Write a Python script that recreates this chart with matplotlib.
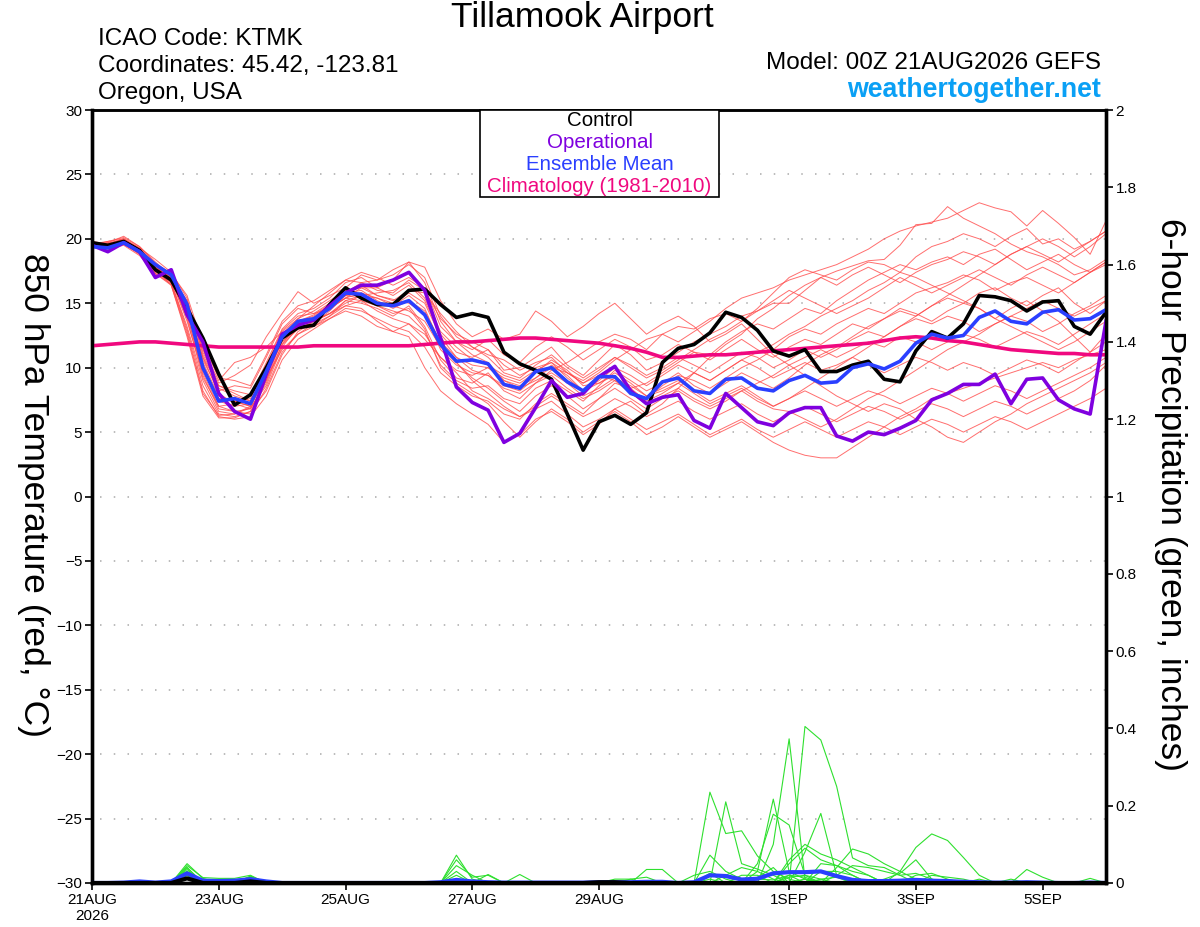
import numpy as np
import matplotlib
matplotlib.use('Agg')
import matplotlib.pyplot as plt

plt.rcParams['font.family'] = ['Liberation Sans', 'DejaVu Sans']

# 6-hourly steps from 00Z 21AUG2026 (65 times, 16 days)
n_steps = 65
tick_steps = [0, 8, 16, 24, 32, 44, 52, 60]
tick_labels = ['21AUG\n2026', '23AUG', '25AUG', '27AUG', '29AUG', '1SEP', '3SEP', '5SEP']

# 850 hPa temperature (C)
control_t = [19.7, 19.5, 19.8, 19.1, 17.6, 16.8,
             14.6, 12.3, 9.5, 7.1, 7.9, 10.0,
             12.3, 13.1, 13.3, 14.9, 16.2, 15.4, 14.9, 14.9, 16.0, 16.1,
             14.9, 13.9, 14.2, 13.9, 11.2, 10.3, 9.8, 9.1, 6.4, 3.6, 5.8, 6.3,
             5.6, 6.5, 10.4, 11.5, 11.8, 12.7, 14.3, 13.9, 12.9, 11.3,
             10.9, 11.4, 9.7, 9.7, 10.2, 10.5, 9.1, 8.9, 11.3, 12.8,
             12.3, 13.4, 15.6, 15.5, 15.2, 14.4, 15.1, 15.2, 13.2, 12.6, 14.3]
oper_t = [19.5, 19.0, 19.7, 19.0, 17.0, 17.6,
          14.1, 12.0, 8.0, 6.6, 6.0, 9.5,
          12.6, 13.3, 13.7, 14.8, 15.8, 16.4, 16.4, 16.8, 17.4, 16.0,
          12.3, 8.5, 7.3, 6.7, 4.2, 4.9, 6.9, 9.0, 7.7, 8.0, 9.3, 10.1,
          8.2, 7.2, 7.7, 7.9, 5.9, 5.3, 8.0, 6.9, 5.8, 5.5,
          6.5, 6.9, 6.9, 4.7, 4.3, 5.0, 4.8, 5.3, 5.9, 7.5,
          8.0, 8.7, 8.7, 9.5, 7.2, 9.1, 9.2, 7.5, 6.8, 6.4, 13.6]
mean_t = [19.4, 19.3, 19.7, 19.0, 18.0, 17.2,
          14.9, 10.0, 7.4, 7.6, 7.2, 9.7,
          12.4, 13.6, 13.8, 14.6, 15.8, 15.7, 15.0, 14.8, 15.2, 14.1,
          11.8, 10.5, 10.6, 10.3, 8.7, 8.4, 9.7, 10.0, 8.9, 8.2, 9.3, 9.3,
          8.0, 7.6, 8.9, 9.2, 8.2, 8.0, 9.1, 9.2, 8.4, 8.2,
          9.0, 9.4, 8.8, 8.9, 10.0, 10.3, 9.9, 10.5, 11.9, 12.6,
          12.3, 12.5, 13.9, 14.4, 13.6, 13.4, 14.3, 14.5, 13.7, 13.8, 14.5]
clim_t = [11.7, 11.8, 11.9, 12.0, 12.0, 11.9,
          11.8, 11.7, 11.6, 11.6, 11.6, 11.6,
          11.6, 11.6, 11.7, 11.7, 11.7, 11.7, 11.7, 11.7, 11.7, 11.8,
          11.9, 12.0, 12.0, 12.1, 12.2, 12.3, 12.3, 12.2, 12.1, 12.0, 11.9, 11.7,
          11.5, 11.2, 10.8, 10.8, 10.9, 11.0, 11.0, 11.1, 11.2, 11.3,
          11.4, 11.5, 11.6, 11.7, 11.8, 11.9, 12.1, 12.3, 12.4, 12.3,
          12.1, 12.0, 11.8, 11.6, 11.4, 11.3, 11.2, 11.1, 11.1, 11.0, 11.0]

ens_t = [
    [19.6, 19.8, 20.1, 19.4, 18.2, 17.1, 14.2, 10.8, 8.0, 7.2, 7.8, 10.4,
     13.0, 14.2, 14.6, 15.4, 16.6, 17.0, 16.2, 15.6, 16.4, 15.2,
     12.6, 11.2, 10.8, 11.4, 9.8, 10.0, 10.8, 11.6, 10.2, 9.4, 10.6, 11.8,
     11.0, 9.8, 10.4, 11.2, 12.0, 12.6, 13.2, 14.0, 14.4, 15.0,
     15.0, 16.0, 17.0, 17.5, 17.9, 18.3, 18.4, 19.5, 21.1, 21.2,
     22.5, 21.6, 21.0, 20.4, 19.6, 19.0, 18.6, 18.0, 17.2, 17.6, 18.4],
    [19.3, 19.6, 19.9, 19.2, 17.9, 16.8, 13.6, 9.6, 7.0, 6.6, 6.8, 9.0,
     12.2, 13.6, 14.1, 14.9, 15.6, 16.4, 15.6, 15.3, 15.0, 14.2,
     11.4, 10.2, 9.6, 9.4, 8.6, 8.2, 9.2, 10.0, 9.6, 8.8, 9.6, 10.6,
     11.4, 12.2, 12.6, 12.0, 12.8, 13.6, 14.6, 15.4, 15.8, 16.2,
     16.8, 17.2, 17.6, 18.0, 18.6, 19.2, 20.0, 20.6, 21.0, 21.3,
     21.6, 22.2, 22.8, 22.4, 22.1, 21.0, 22.2, 21.2, 20.1, 18.8, 21.4],
    [19.5, 19.4, 19.7, 19.0, 17.6, 16.9, 15.0, 11.5, 8.4, 7.8, 7.4, 9.8,
     12.5, 13.5, 13.6, 14.2, 15.2, 15.0, 14.6, 14.0, 14.8, 13.2,
     10.6, 9.2, 8.8, 9.6, 8.2, 7.6, 8.8, 9.8, 10.4, 11.2, 12.0, 12.6,
     12.2, 11.4, 12.6, 13.2, 13.0, 13.8, 14.2, 13.6, 14.6, 15.8,
     17.0, 17.6, 17.2, 16.8, 17.6, 18.2, 18.0, 17.4, 18.6, 19.4,
     19.8, 20.4, 20.0, 19.4, 20.2, 20.8, 19.6, 20.0, 19.2, 19.8, 20.6],
    [19.7, 19.5, 19.8, 18.9, 17.5, 16.6, 13.2, 9.0, 6.6, 6.4, 6.9, 8.6,
     11.6, 13.2, 13.8, 14.5, 15.8, 16.6, 16.8, 17.2, 18.0, 17.0,
     14.0, 12.4, 11.6, 11.0, 10.6, 9.8, 10.4, 10.8, 9.6, 8.8, 9.4, 9.0,
     8.4, 8.8, 9.6, 10.4, 11.2, 11.0, 12.0, 12.8, 13.4, 13.0,
     13.8, 14.6, 14.2, 15.2, 16.0, 16.8, 17.4, 18.0, 17.6, 18.2,
     18.6, 18.0, 18.8, 19.2, 18.4, 17.6, 18.2, 18.8, 18.0, 17.4, 18.2],
    [19.4, 19.6, 20.0, 19.3, 18.4, 17.4, 15.4, 11.0, 8.6, 8.2, 7.9, 10.2,
     12.9, 14.0, 14.2, 15.0, 15.8, 16.0, 15.2, 14.6, 15.2, 14.4,
     12.0, 10.8, 10.2, 10.0, 9.2, 8.8, 9.6, 10.6, 9.8, 8.6, 8.8, 9.4,
     8.2, 7.6, 8.6, 9.4, 9.0, 8.4, 9.2, 10.0, 10.6, 11.4,
     12.4, 13.0, 12.6, 13.4, 14.0, 14.6, 14.2, 15.0, 15.8, 16.2,
     16.6, 17.2, 16.8, 16.0, 16.6, 17.0, 16.4, 15.8, 16.6, 17.4, 18.0],
    [19.6, 19.3, 19.6, 19.1, 18.0, 17.2, 14.8, 10.2, 7.6, 7.4, 7.0, 9.4,
     12.0, 13.2, 13.4, 14.4, 15.6, 15.4, 14.8, 14.4, 14.0, 12.8,
     10.2, 9.0, 8.4, 8.6, 7.6, 7.2, 8.4, 9.0, 8.2, 7.4, 8.6, 9.8,
     9.0, 8.2, 8.8, 9.6, 8.6, 8.0, 8.8, 9.6, 9.0, 8.4,
     9.2, 10.2, 11.0, 11.6, 12.4, 13.2, 13.8, 14.4, 14.0, 14.8,
     15.4, 15.0, 15.8, 16.2, 15.4, 14.8, 15.6, 16.2, 15.0, 14.2, 15.2],
    [19.5, 19.7, 19.9, 19.0, 17.7, 16.7, 14.0, 9.8, 7.4, 7.0, 7.2, 9.6,
     12.6, 13.8, 14.8, 15.8, 16.8, 17.4, 17.0, 16.4, 17.0, 16.2,
     13.2, 12.0, 11.4, 12.2, 11.0, 10.4, 11.6, 12.4, 11.6, 10.6, 11.4, 12.2,
     11.6, 10.6, 11.0, 11.8, 11.2, 10.6, 11.4, 12.2, 11.4, 10.8,
     11.6, 12.2, 11.8, 12.6, 13.4, 13.0, 13.8, 14.6, 14.2, 13.6,
     14.4, 15.0, 14.6, 13.8, 14.6, 15.2, 14.4, 13.6, 12.4, 11.2, 12.6],
    [19.3, 19.4, 19.7, 18.8, 17.4, 16.6, 13.0, 8.6, 6.4, 6.2, 6.6, 8.2,
     11.0, 12.8, 13.6, 14.2, 15.0, 15.6, 15.8, 16.0, 16.6, 15.4,
     12.8, 11.6, 10.6, 10.2, 9.4, 9.0, 9.8, 10.4, 9.6, 9.0, 9.8, 10.8,
     10.2, 9.4, 10.0, 10.8, 10.2, 9.6, 10.4, 11.2, 10.8, 10.0,
     10.6, 11.4, 10.8, 11.4, 12.2, 12.8, 12.4, 13.2, 13.8, 13.4,
     14.0, 13.6, 12.8, 13.4, 14.0, 13.6, 12.8, 13.4, 14.2, 14.8, 15.6],
    [19.8, 19.6, 20.0, 19.2, 17.8, 17.0, 15.2, 10.6, 8.2, 8.6, 8.4, 10.8,
     13.4, 14.6, 14.2, 14.6, 15.4, 15.8, 15.0, 14.8, 14.4, 13.6,
     11.6, 10.4, 9.2, 8.4, 7.4, 6.6, 7.8, 8.6, 7.8, 6.8, 7.6, 8.4,
     7.6, 6.8, 7.6, 8.2, 7.4, 6.8, 7.4, 8.2, 8.8, 9.4,
     10.2, 10.8, 11.4, 10.8, 11.4, 12.0, 11.6, 12.4, 12.0, 11.4,
     12.0, 12.6, 12.2, 11.6, 12.2, 12.8, 12.4, 11.8, 12.6, 13.4, 14.2],
    [19.4, 19.2, 19.5, 18.7, 17.3, 16.5, 12.8, 8.2, 6.2, 6.0, 6.2, 7.8,
     10.6, 12.2, 13.0, 13.8, 14.6, 14.4, 13.8, 13.2, 12.8, 11.6,
     9.6, 8.6, 7.8, 7.4, 6.4, 6.0, 7.2, 8.0, 7.2, 6.4, 7.6, 8.8,
     8.4, 7.4, 8.0, 8.8, 9.6, 9.0, 9.8, 10.6, 10.0, 9.2,
     9.8, 10.4, 9.8, 10.2, 10.8, 10.2, 9.6, 10.2, 10.8, 10.4,
     9.8, 10.4, 10.0, 9.4, 10.0, 10.6, 10.2, 9.6, 10.4, 11.2, 12.0],
    [19.6, 19.7, 20.2, 19.4, 18.1, 17.3, 15.6, 11.8, 9.2, 9.0, 8.6, 11.0,
     13.6, 14.8, 15.2, 16.0, 16.8, 16.6, 16.0, 15.8, 16.8, 16.0,
     13.8, 12.6, 12.0, 11.4, 10.2, 9.4, 10.0, 10.4, 9.2, 8.2, 8.8, 9.6,
     8.8, 7.8, 8.2, 8.8, 8.0, 7.2, 7.8, 8.4, 7.6, 7.0,
     7.6, 8.2, 7.6, 7.0, 7.6, 8.2, 7.8, 7.2, 7.8, 8.4,
     8.0, 7.4, 8.0, 8.6, 8.2, 7.6, 8.2, 8.8, 9.4, 10.0, 10.8],
    [19.5, 19.5, 19.8, 19.0, 17.6, 16.4, 12.4, 7.8, 6.1, 6.1, 6.6, 9.0,
     11.8, 13.4, 13.8, 14.6, 15.4, 15.2, 14.4, 13.8, 13.4, 12.2,
     10.8, 9.6, 8.2, 7.6, 6.8, 6.2, 7.0, 7.8, 7.0, 6.2, 6.8, 7.6,
     7.0, 6.2, 6.8, 7.4, 6.6, 6.0, 6.6, 7.2, 6.4, 5.8,
     6.4, 7.0, 6.4, 5.8, 6.4, 7.0, 6.6, 6.0, 6.6, 7.2,
     6.8, 6.2, 6.8, 7.4, 7.0, 6.4, 7.0, 7.6, 8.2, 9.0, 10.2],
    [19.4, 19.3, 19.6, 18.9, 17.5, 16.8, 14.6, 10.4, 7.8, 7.4, 7.6, 9.9,
     12.4, 13.6, 14.0, 14.8, 15.6, 15.8, 15.4, 14.8, 15.6, 14.6,
     11.8, 10.4, 9.0, 8.0, 7.0, 6.2, 6.8, 7.4, 6.4, 5.4, 6.0, 6.8,
     6.0, 5.2, 5.8, 6.4, 5.6, 4.8, 5.4, 6.0, 5.2, 4.6,
     5.2, 5.8, 5.2, 4.6, 5.2, 5.8, 5.4, 4.8, 5.4, 6.0,
     5.6, 5.0, 5.6, 6.2, 5.8, 5.2, 5.8, 6.4, 7.0, 7.6, 8.4],
    [19.7, 19.6, 19.9, 19.3, 18.0, 17.1, 14.4, 10.0, 7.6, 7.4, 7.0, 9.2,
     11.4, 12.6, 13.2, 14.0, 14.8, 15.2, 14.8, 14.2, 14.6, 13.0,
     10.0, 8.8, 8.0, 7.2, 5.8, 4.6, 5.8, 6.8, 6.0, 5.0, 5.8, 6.6,
     5.8, 4.8, 5.4, 6.2, 5.4, 4.6, 5.2, 5.8, 5.0, 4.2,
     3.6, 3.2, 3.0, 3.0, 3.8, 4.6, 5.4, 6.2, 6.8, 7.6,
     8.0, 8.4, 8.8, 9.2, 9.6, 10.0, 10.4, 10.0, 10.6, 11.0, 11.4],
    [19.5, 19.8, 20.0, 19.2, 17.9, 17.0, 15.0, 11.2, 8.8, 9.4, 10.2, 12.4,
     14.2, 15.9, 15.0, 15.6, 16.2, 17.2, 16.8, 17.6, 18.2, 17.8,
     15.2, 13.4, 12.4, 13.0, 12.2, 12.6, 14.4, 13.6, 12.4, 13.2, 14.2, 15.0,
     13.8, 12.6, 13.4, 14.0, 13.2, 12.0, 12.6, 13.4, 12.2, 11.0,
     10.2, 9.4, 8.6, 7.8, 7.2, 6.6, 7.2, 6.8, 6.0, 5.4,
     4.6, 4.2, 5.0, 5.8, 6.4, 7.2, 7.8, 8.4, 9.0, 9.6, 10.4],
    [19.3, 19.4, 19.6, 18.8, 17.3, 16.4, 12.6, 8.0, 6.3, 6.4, 7.0, 9.4,
     12.2, 13.4, 13.6, 14.2, 14.8, 14.6, 13.6, 12.8, 12.4, 10.0,
     8.2, 7.2, 6.4, 5.6, 4.2, 4.8, 6.0, 6.6, 5.8, 4.8, 5.6, 6.8,
     7.4, 6.4, 7.2, 8.4, 9.6, 10.8, 11.8, 12.6, 13.8, 14.6,
     15.6, 16.4, 17.0, 16.4, 17.2, 17.8, 17.2, 16.6, 17.4, 18.0,
     18.4, 19.0, 18.6, 18.0, 18.8, 19.4, 18.8, 18.2, 19.0, 19.8, 20.6],
    [19.6, 19.4, 19.7, 19.1, 17.9, 17.2, 14.8, 10.8, 8.6, 8.0, 7.4, 9.6,
     12.0, 13.0, 13.2, 13.8, 14.4, 14.0, 13.2, 12.8, 13.4, 12.6,
     10.8, 9.8, 9.4, 10.0, 9.0, 8.6, 9.2, 10.2, 9.4, 8.2, 9.0, 10.0,
     9.4, 8.6, 9.4, 10.2, 9.6, 9.0, 9.8, 10.6, 11.2, 11.8,
     12.6, 13.2, 14.0, 14.6, 15.2, 16.0, 16.6, 17.4, 17.0, 16.4,
     15.8, 15.2, 14.6, 13.8, 13.2, 12.6, 12.0, 11.4, 12.0, 12.8, 13.6],
    [19.4, 19.5, 19.8, 19.0, 17.7, 16.9, 14.2, 9.4, 6.8, 6.6, 6.4, 8.4,
     11.2, 12.6, 13.4, 14.0, 15.2, 15.6, 15.4, 15.0, 15.8, 15.0,
     12.4, 10.8, 9.8, 9.4, 8.4, 8.0, 8.8, 9.4, 8.4, 7.6, 8.2, 9.0,
     8.0, 7.2, 7.8, 8.4, 7.6, 7.0, 7.6, 8.2, 7.4, 6.8,
     6.6, 6.0, 5.4, 6.0, 6.8, 7.6, 8.2, 9.0, 9.8, 10.6,
     11.4, 12.0, 12.6, 13.4, 14.0, 14.6, 15.2, 14.6, 14.0, 14.6, 15.2],
    [19.5, 19.6, 19.9, 19.2, 18.0, 17.0, 15.2, 11.4, 9.0, 10.4, 10.8, 11.6,
     12.8, 13.8, 14.4, 15.2, 16.0, 16.2, 15.6, 15.2, 16.0, 15.8,
     14.2, 12.8, 11.6, 10.8, 9.6, 9.2, 10.2, 11.0, 10.0, 9.2, 10.0, 10.8,
     10.0, 9.2, 9.8, 10.6, 11.4, 12.2, 12.8, 13.6, 14.4, 15.2,
     16.0, 15.4, 14.8, 14.2, 14.8, 15.4, 16.2, 17.0, 16.4, 15.8,
     16.4, 17.0, 17.6, 17.0, 16.4, 17.2, 17.8, 17.2, 16.6, 17.4, 18.2],
    [19.6, 19.5, 19.8, 19.1, 17.8, 16.9, 13.8, 9.2, 7.0, 7.2, 6.8, 8.8,
     11.8, 13.0, 13.6, 14.6, 15.4, 16.2, 16.2, 16.8, 18.2, 16.6,
     13.6, 12.0, 11.0, 10.4, 9.0, 8.4, 9.0, 9.6, 8.8, 7.8, 8.4, 9.2,
     8.6, 7.8, 8.4, 9.0, 8.2, 7.4, 8.0, 8.6, 7.8, 7.0,
     7.6, 8.4, 9.2, 10.0, 10.8, 11.6, 12.4, 13.2, 14.0, 14.8,
     15.6, 16.4, 17.2, 18.0, 18.8, 19.4, 20.0, 19.4, 18.6, 19.4, 20.4],
]

# 6-hour precipitation (inches); members listed as {step: value}, zero elsewhere
ens_p = [
    {6: 0.05, 7: 0.012, 10: 0.018, 23: 0.072, 24: 0.01, 39: 0.235, 40: 0.128, 41: 0.135, 42: 0.07, 43: 0.03, 44: 0.01},
    {6: 0.045, 7: 0.014, 8: 0.012, 9: 0.012, 10: 0.02, 23: 0.06, 24: 0.015, 25: 0.02, 40: 0.21, 41: 0.05, 42: 0.036, 43: 0.02},
    {6: 0.04, 10: 0.015, 23: 0.045, 24: 0.02, 27: 0.022, 42: 0.03, 43: 0.217, 44: 0.03, 45: 0.01},
    {6: 0.035, 10: 0.012, 23: 0.03, 25: 0.022, 42: 0.05, 43: 0.178, 44: 0.15, 45: 0.02, 46: 0.01},
    {6: 0.03, 43: 0.1, 44: 0.373, 45: 0.01, 46: 0.005},
    {6: 0.04, 10: 0.016, 23: 0.02, 45: 0.405, 46: 0.37, 47: 0.25, 48: 0.065, 49: 0.045, 50: 0.04, 51: 0.02},
    {6: 0.025, 45: 0.08, 46: 0.18, 47: 0.02},
    {6: 0.03, 35: 0.035, 36: 0.035, 47: 0.04, 48: 0.088, 49: 0.075, 50: 0.05, 51: 0.03, 52: 0.01},
    {51: 0.03, 52: 0.092, 53: 0.127, 54: 0.11, 55: 0.066, 56: 0.02},
    {50: 0.01, 51: 0.025, 52: 0.06, 53: 0.01},
    {39: 0.072, 40: 0.03, 41: 0.01, 46: 0.05, 47: 0.045, 48: 0.03, 49: 0.02},
    {38: 0.02, 39: 0.03, 40: 0.01, 44: 0.05, 45: 0.09, 46: 0.06, 47: 0.045, 48: 0.02},
    {34: 0.01, 35: 0.015, 39: 0.025, 44: 0.02, 46: 0.03, 47: 0.03, 48: 0.02, 59: 0.035, 60: 0.015},
    {42: 0.015, 43: 0.04, 45: 0.01, 47: 0.02, 48: 0.045, 49: 0.04, 50: 0.03, 51: 0.02, 52: 0.025, 53: 0.01},
    {6: 0.02, 41: 0.02, 42: 0.02, 44: 0.06, 45: 0.1, 46: 0.075, 47: 0.06, 48: 0.04, 49: 0.02},
    {23: 0.01, 44: 0.015, 45: 0.02, 48: 0.01, 53: 0.02, 54: 0.015, 55: 0.01, 63: 0.012},
    {6: 0.01, 33: 0.01, 34: 0.01, 39: 0.01, 46: 0.01, 47: 0.015, 56: 0.01},
    {45: 0.01, 52: 0.02, 53: 0.025, 54: 0.01, 58: 0.01},
    {6: 0.02, 10: 0.01, 42: 0.01, 43: 0.008, 44: 0.02, 45: 0.015},
    {40: 0.02, 41: 0.04, 42: 0.03, 43: 0.01},
]
mean_p = [0, 0, 0.001, 0.004, 0.001, 0.004,
          0.025, 0.006, 0.005, 0.006, 0.01, 0.004,
          0, 0, 0, 0, 0, 0, 0, 0, 0, 0,
          0.002, 0.008, 0.004, 0.002, 0.001, 0.001, 0.001, 0.001, 0.001, 0.001, 0.002, 0.002,
          0.002, 0.003, 0.003, 0.0, 0.002, 0.02, 0.018, 0.009, 0.011, 0.025,
          0.028, 0.028, 0.03, 0.018, 0.008, 0.005, 0.005, 0.006, 0.008, 0.006,
          0.005, 0.003, 0.002, 0.001, 0.001, 0.002, 0.001, 0, 0, 0.001, 0]
control_p = {6: 0.012, 10: 0.004, 32: 0.002, 33: 0.002}

for s in [control_t, oper_t, mean_t, clim_t, mean_p] + ens_t:
    assert len(s) == n_steps, len(s)

x = np.arange(n_steps)

def expand(d):
    arr = np.zeros(n_steps)
    for k, v in d.items():
        arr[k] = v
    return arr

RED = '#ff4a4a'
GREEN = '#2ee02e'
PURPLE = '#7f00df'
BLUE = '#2a3fff'
PINK = '#f0087f'
GRID = (0, (1, 8))

fig = plt.figure(figsize=(12, 9.27), dpi=100)
ax = fig.add_axes([92 / 1200, 1 - 883 / 927, (1106 - 92) / 1200, (883 - 110) / 927])

for m in ens_t:
    ax.plot(x, m, color=RED, lw=0.7, alpha=0.8, zorder=2)
ax.plot(x, clim_t, color=PINK, lw=2.6, zorder=3)
ax.plot(x, control_t, color='black', lw=2.6, zorder=4)
ax.plot(x, oper_t, color=PURPLE, lw=2.6, zorder=5)
ax.plot(x, mean_t, color=BLUE, lw=2.6, zorder=6)

ax.set_xlim(0, n_steps - 1)
ax.set_ylim(-30, 30)
ax.set_yticks(np.arange(-30, 31, 5))
ax.set_xticks(tick_steps)
ax.set_xticklabels(tick_labels)
for yv in range(-25, 30, 5):
    ax.axhline(yv, xmin=0.008, color='#aaaaaa', lw=1.1, ls=GRID, zorder=1)
ax.tick_params(axis='both', direction='out', length=5, width=1.2, labelsize=11, pad=2)
for name, sp in ax.spines.items():
    sp.set_linewidth(1.8 if name == 'top' else 2.4)

ax2 = ax.twinx()
for d in ens_p:
    ax2.plot(x, expand(d), color=GREEN, lw=0.8, zorder=2)
ax2.plot(x, mean_p, color=BLUE, lw=3.0, zorder=4)
ax2.plot(x, expand(control_p), color='black', lw=3.0, zorder=5)
ax2.set_ylim(0, 2)
ax2.set_yticks(np.round(np.arange(0, 2.01, 0.2), 1))
ax2.set_yticklabels(['0', '0.2', '0.4', '0.6', '0.8', '1', '1.2', '1.4', '1.6', '1.8', '2'])
ax2.tick_params(axis='y', direction='out', length=5, width=1.2, labelsize=11, pad=2)
for name, sp in ax2.spines.items():
    sp.set_linewidth(1.8 if name == 'top' else 2.4)

# axis titles (both read top to bottom)
fig.text(33 / 1200, 1 - 495 / 927, '850 hPa Temperature (red, °C)', fontsize=25.5,
         rotation=-90, ha='center', va='center')
fig.text(1170 / 1200, 1 - 495 / 927, '6-hour Precipitation (green, inches)', fontsize=25.5,
         rotation=-90, ha='center', va='center')

# legend box
lx0, lx1 = 480 / 1200, 719 / 1200
ly_top, ly_bot = 1 - 110 / 927, 1 - 197 / 927
fig.patches.append(plt.Rectangle((lx0, ly_bot), lx1 - lx0, ly_top - ly_bot, transform=fig.transFigure,
                                 facecolor='white', edgecolor='black', lw=1.2, zorder=10))
leg_items = [('Control', 'black'), ('Operational', PURPLE), ('Ensemble Mean', BLUE),
             ('Climatology (1981-2010)', PINK)]
for k, (txt, col) in enumerate(leg_items):
    fig.text((lx0 + lx1) / 2, 1 - (121 + 21.7 * k) / 927, txt, color=col, fontsize=14.8,
             ha='center', va='center', zorder=11)

# header text
fig.text(582 / 1200, 1 - 18 / 927, 'Tillamook Airport', fontsize=25.5, ha='center', va='center')
fig.text(98 / 1200, 1 - 39 / 927, 'ICAO Code: KTMK', fontsize=17.5, ha='left', va='center')
fig.text(98 / 1200, 1 - 66 / 927, 'Coordinates: 45.42, -123.81', fontsize=17.5, ha='left', va='center')
fig.text(98 / 1200, 1 - 93 / 927, 'Oregon, USA', fontsize=17.5, ha='left', va='center')
fig.text(1101 / 1200, 1 - 63 / 927, 'Model: 00Z 21AUG2026 GEFS', fontsize=17.5, ha='right', va='center')
fig.text(1101 / 1200, 1 - 90 / 927, 'weathertogether.net', fontsize=19.3, ha='right', va='center',
         color='#0aa0f5', fontweight='bold')

fig.savefig('out.png', dpi=100)
